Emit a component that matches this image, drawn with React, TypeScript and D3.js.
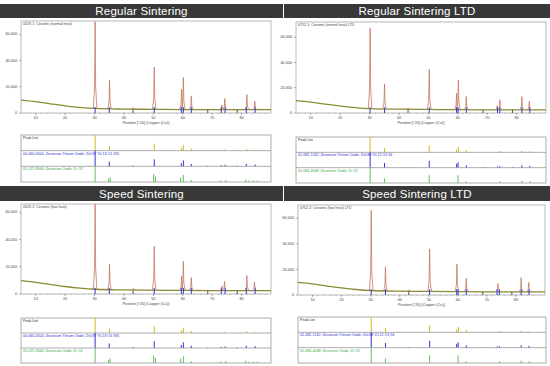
import React from 'react'
import * as d3 from 'd3'

// background counts along 2theta (shared by all four scans)
const bgAngles = [5, 10, 15, 20, 25, 30, 40, 50, 60, 70, 80, 90]
const bgCounts = [9800, 8600, 7000, 5500, 4300, 3500, 3000, 2800, 2600, 2500, 2500, 2500]

// observed peaks: [2theta, counts at top, counts at base]
const peaksRegular = [
  [30.2, 69500, 3400], [35.1, 25000, 3200], [43.2, 4200, 3000], [50.3, 35000, 2900],
  [59.6, 18000, 2700], [60.2, 27000, 2700], [62.9, 13000, 2700], [73.3, 6000, 2600],
  [74.3, 11000, 2600], [81.8, 14000, 2500], [84.5, 9000, 2500]
]
const peaksRegularLTD = [
  [30.2, 67000, 3400], [35.1, 23000, 3200], [43.2, 4000, 3000], [50.3, 34500, 2900],
  [59.6, 15700, 2700], [60.2, 26000, 2700], [62.9, 13000, 2700], [73.4, 5800, 2600],
  [74.3, 10500, 2600], [81.8, 13000, 2500], [84.3, 9200, 2500]
]
const peaksSpeed = [
  [30.2, 66000, 3400], [35.1, 22000, 3200], [43.2, 4000, 3000], [50.3, 35000, 2900],
  [59.6, 13000, 2700], [60.2, 24000, 2700], [62.9, 12000, 2700], [73.3, 5600, 2600],
  [74.2, 9300, 2600], [81.8, 13500, 2500], [84.4, 8800, 2500]
]
const peaksSpeedLTD = [
  [30.2, 66000, 3400], [35.1, 22000, 3200], [43.2, 4000, 3000], [50.3, 36000, 2900],
  [59.7, 24000, 2700], [62.9, 13000, 2700], [73.8, 9000, 2600], [81.8, 13500, 2500],
  [84.4, 9700, 2500]
]

// peak list sticks: [2theta, relative height]
const peakListSticks = [
  [30.2, 1], [35.1, 0.28], [50.3, 0.45], [59.6, 0.2], [60.2, 0.35], [62.9, 0.15],
  [74.3, 0.08], [81.8, 0.1], [84.5, 0.06]
]
const yttriaRefA = [
  [30.2, 1], [35.0, 0.3], [43.1, 0.05], [50.3, 0.45], [59.5, 0.2], [60.2, 0.38],
  [62.9, 0.15], [68.5, 0.04], [73.1, 0.08], [74.4, 0.1], [78.5, 0.04], [81.6, 0.15], [84.6, 0.12]
]
const zirconiaRefA = [
  [30.2, 1], [34.8, 0.2], [35.3, 0.3], [50.1, 0.5], [50.7, 0.35], [59.3, 0.3], [60.2, 0.45],
  [62.9, 0.12], [72.9, 0.1], [74.6, 0.12], [81.4, 0.15], [82.5, 0.1], [84.1, 0.1], [85.3, 0.08]
]
const yttriaRefB = [
  [30.2, 1], [35.1, 0.3], [43.1, 0.04], [50.3, 0.45], [59.6, 0.25], [60.1, 0.35],
  [62.9, 0.15], [68.6, 0.04], [73.5, 0.08], [74.3, 0.1], [78.6, 0.04], [81.8, 0.15], [84.5, 0.12]
]
const zirconiaRefB = [
  [30.2, 1], [35.1, 0.3], [50.3, 0.5], [60.1, 0.5], [62.9, 0.1], [74.3, 0.12],
  [81.8, 0.15], [84.6, 0.12]
]

const xTicks = [10, 20, 30, 40, 50, 60, 70, 80]
const yTicks = [0, 20000, 40000, 60000]

const panels = [
  {
    title: 'Regular Sintering', scan: '0529-1: Ceramic (normal heat)', peaks: peaksRegular,
    refA: '00-060-0504; Zirconium Yttrium Oxide; Zr0.87 Y0.13 O1.935', refB: '01-075-9646; Zirconium Oxide; Zr O2',
    sticksA: yttriaRefA, sticksB: zirconiaRefA, ymax: 70000,
    head: { x: 0, w: 283, y: 4, h: 14 }, plot: { l: 21, r: 271, t: 21, b: 113 }, list: { l: 21, r: 271, t: 135, b: 182 }
  },
  {
    title: 'Regular Sintering LTD', scan: '0752-1: Ceramic (normal heat) LTD', peaks: peaksRegularLTD,
    refA: '01-082-1242; Zirconium Yttrium Oxide; Zr0.88 Y0.12 O1.94', refB: '01-084-4048; Zirconium Oxide; Zr O2',
    sticksA: yttriaRefB, sticksB: zirconiaRefB, ymax: 72000,
    head: { x: 284, w: 266, y: 4, h: 14 }, plot: { l: 296, r: 546, t: 22, b: 113 }, list: { l: 296, r: 546, t: 137, b: 183 }
  },
  {
    title: 'Speed Sintering', scan: '0529-2: Ceramic (fast heat)', peaks: peaksSpeed,
    refA: '00-060-0504; Zirconium Yttrium Oxide; Zr0.87 Y0.13 O1.935', refB: '01-075-9646; Zirconium Oxide; Zr O2',
    sticksA: yttriaRefA, sticksB: zirconiaRefA, ymax: 66000,
    head: { x: 0, w: 283, y: 186, h: 15 }, plot: { l: 21, r: 271, t: 204, b: 294 }, list: { l: 21, r: 271, t: 318, b: 363 }
  },
  {
    title: 'Speed Sintering LTD', scan: '0752-2: Ceramic (fast heat) LTD', peaks: peaksSpeedLTD,
    refA: '01-082-1242; Zirconium Yttrium Oxide; Zr0.88 Y0.12 O1.94', refB: '01-084-4048; Zirconium Oxide; Zr O2',
    sticksA: yttriaRefB, sticksB: zirconiaRefB, ymax: 70200,
    head: { x: 284, w: 266, y: 186, h: 15 }, plot: { l: 298, r: 545, t: 205, b: 295 }, list: { l: 298, r: 546, t: 317, b: 363 }
  }
]

const font = 'Liberation Sans, Arial, sans-serif'

function Panel({ p, idx }: { p: any; idx: number }) {
  const x = d3.scaleLinear().domain([5, 90]).range([p.plot.l, p.plot.r])
  const y = d3.scaleLinear().domain([0, p.ymax]).range([p.plot.b, p.plot.t])
  const bgLine = d3.line<number>()
    .x((_, i) => x(bgAngles[i]))
    .y(d => y(d))
    .curve(d3.curveMonotoneX)
  const peakLine = d3.line<number[]>().x(d => x(d[0])).y(d => y(d[1]))
  const w = 0.6
  const rowH = (p.list.b - p.list.t) / 3
  const rows = [
    { label: 'Peak List', color: '#222', stick: '#d2bd10', data: peakListSticks },
    { label: p.refA, color: '#2b2bd0', stick: '#3030e0', data: p.sticksA },
    { label: p.refB, color: '#3aa040', stick: '#62c05a', data: p.sticksB }
  ]
  const clipId = `clip${idx}`
  return (
    <g>
      <rect x={p.head.x} y={p.head.y} width={p.head.w} height={p.head.h} fill="#383838" />
      <text x={p.head.x + p.head.w / 2} y={p.head.y + p.head.h / 2 + 4} textAnchor="middle"
        fill="#fff" fontSize={11.5} fontFamily={font} letterSpacing={0.2}>{p.title}</text>

      <defs>
        <clipPath id={clipId}>
          <rect x={p.plot.l} y={p.plot.t} width={p.plot.r - p.plot.l} height={p.plot.b - p.plot.t} />
        </clipPath>
      </defs>
      <rect x={p.plot.l} y={p.plot.t} width={p.plot.r - p.plot.l} height={p.plot.b - p.plot.t}
        fill="#fff" stroke="#9a9a9a" strokeWidth={0.7} />
      <text x={p.plot.l + 2} y={p.plot.t + 4} fontSize={3.6} fontFamily={font} fill="#444">{p.scan}</text>

      <g clipPath={`url(#${clipId})`}>
        <path d={bgLine(bgCounts) || ''} fill="none" stroke="#8a8a35" strokeWidth={1.3} />
        {p.peaks.map((pk: number[], i: number) => (
          <path key={i}
            d={peakLine([[pk[0] - w, pk[2]], [pk[0] - w * 0.3, pk[2] + (pk[1] - pk[2]) * 0.25], [pk[0], pk[1]],
              [pk[0] + w * 0.3, pk[2] + (pk[1] - pk[2]) * 0.25], [pk[0] + w, pk[2]]]) || ''}
            fill="none" stroke="#c4775e" strokeWidth={0.8} />
        ))}
        {p.sticksA.map((s: number[], i: number) => (
          <line key={i} x1={x(s[0])} x2={x(s[0])} y1={y(0)} y2={y(s[1] >= 0.08 ? 4500 : 2500)}
            stroke={s[1] >= 0.08 ? '#3434d8' : '#555'} strokeWidth={1} />
        ))}
      </g>

      {d3.range(6, 90, 2).map(t => (
        <line key={t} x1={x(t)} x2={x(t)} y1={p.plot.b} y2={p.plot.b + 1} stroke="#777" strokeWidth={0.4} />
      ))}
      {xTicks.map(t => (
        <g key={t}>
          <line x1={x(t)} x2={x(t)} y1={p.plot.b} y2={p.plot.b + 2} stroke="#666" strokeWidth={0.5} />
          <text x={x(t)} y={p.plot.b + 6} textAnchor="middle" fontSize={3.8} fontFamily={font} fill="#444">{t}</text>
        </g>
      ))}
      {yTicks.map(t => (
        <g key={t}>
          <line x1={p.plot.l - 2} x2={p.plot.l} y1={y(t)} y2={y(t)} stroke="#666" strokeWidth={0.5} />
          <text x={p.plot.l - 4} y={y(t) + 1.3} textAnchor="end" fontSize={3.8} fontFamily={font} fill="#444">
            {t === 0 ? '0' : d3.format(',')(t)}
          </text>
        </g>
      ))}
      <text x={(p.plot.l + p.plot.r) / 2} y={p.plot.b + 11} textAnchor="middle" fontSize={3.8}
        fontFamily={font} fill="#444">Position [°2θ] (Copper (Cu))</text>

      <rect x={p.list.l} y={p.list.t} width={p.list.r - p.list.l} height={p.list.b - p.list.t}
        fill="#fff" stroke="#8a8a8a" strokeWidth={0.7} />
      {rows.map((r, ri) => {
        const top = p.list.t + ri * rowH
        const bot = top + rowH
        return (
          <g key={ri}>
            {ri > 0 && <line x1={p.list.l} x2={p.list.r} y1={top} y2={top} stroke="#8a8a8a" strokeWidth={0.7} />}
            {r.data.map((s: number[], i: number) => (
              <line key={i} x1={x(s[0])} x2={x(s[0])} y1={bot} y2={bot - s[1] * rowH}
                stroke={r.stick} strokeWidth={1} />
            ))}
            <text x={p.list.l + 2} y={top + 4} fontSize={3.6} fontFamily={font} fill={r.color}>{r.label}</text>
          </g>
        )
      })}
    </g>
  )
}

export default function App() {
  return (
    <svg width={550} height={366} style={{ position: 'absolute', left: 0, top: 0, background: '#fff' }}>
      <rect x={0} y={0} width={550} height={366} fill="#fff" />
      {panels.map((p, i) => <Panel key={i} p={p} idx={i} />)}
    </svg>
  )
}
